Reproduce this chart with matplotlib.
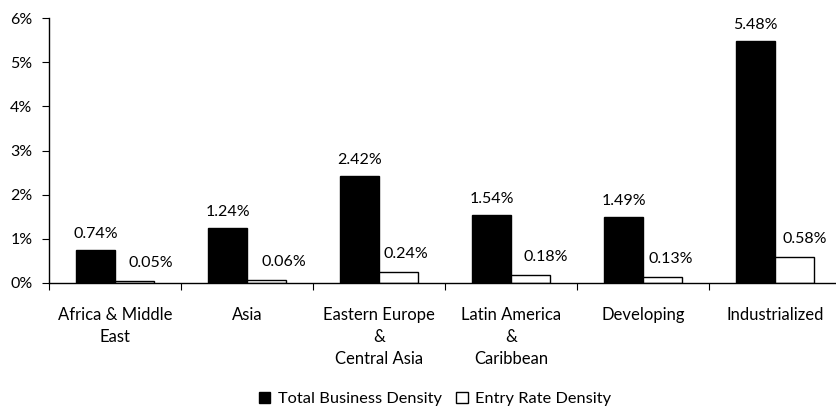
import numpy as np
import matplotlib.pyplot as plt
from matplotlib.ticker import FuncFormatter

plt.rcParams["font.family"] = ["Lato", "DejaVu Sans"]

regions = ["Africa & Middle\nEast", "Asia", "Eastern Europe\n&\nCentral Asia",
           "Latin America\n&\nCaribbean", "Developing", "Industrialized"]
total_density = [0.74, 1.24, 2.42, 1.54, 1.49, 5.48]
entry_density = [0.05, 0.06, 0.24, 0.18, 0.13, 0.58]

# sideways nudge (pixels) of the entry-rate labels so they clear the black bars
entry_label_shift = [16, 17, 7, 15, 8, 10]

W, H = 836, 407
fig = plt.figure(figsize=(W / 100, H / 100), dpi=100)
ax = fig.add_axes([49 / W, (H - 283) / H, 792 / W, 265 / H])

x = np.arange(len(regions))
bw = 0.295
ax.bar(x - bw / 2, total_density, bw, color="black", edgecolor="black",
       linewidth=1, label="Total Business Density")
ax.bar(x + bw / 2, entry_density, bw, color="white", edgecolor="black",
       linewidth=1, label="Entry Rate Density")

px = 72 / 100  # points per pixel
for i in range(len(regions)):
    ax.annotate(f"{total_density[i]:.2f}%", (x[i] - bw / 2, total_density[i]),
                xytext=(0, 16 * px), textcoords="offset points", ha="center",
                va="center", fontsize=11.5)
    ax.annotate(f"{entry_density[i]:.2f}%", (x[i] + bw / 2, entry_density[i]),
                xytext=(entry_label_shift[i] * px, 18 * px),
                textcoords="offset points", ha="center", va="center",
                fontsize=11.5)

ax.set_xlim(-0.5, len(regions) - 0.5)
ax.set_ylim(0, 6)
ax.set_yticks(range(7))
ax.yaxis.set_major_formatter(FuncFormatter(lambda v, p: f"{v:.0f}%"))
ax.tick_params(axis="y", direction="out", length=5, labelsize=11.5, pad=7)

# ticks between categories, labels centred under each group
ax.set_xticks(np.arange(len(regions) + 1) - 0.5)
ax.set_xticklabels([])
ax.tick_params(axis="x", which="major", direction="out", length=5)
ax.set_xticks(x, minor=True)
ax.set_xticklabels(regions, minor=True, fontsize=12, linespacing=1.48, va="top")
ax.tick_params(axis="x", which="minor", length=0, pad=17)

for s in ["top", "right"]:
    ax.spines[s].set_visible(False)
ax.spines["left"].set_linewidth(1)
ax.spines["bottom"].set_linewidth(1)

fig.legend(loc="center", bbox_to_anchor=(435 / W, (H - 399) / H), ncol=2,
           frameon=False, fontsize=11.8, handlelength=0.7, handleheight=0.7,
           handletextpad=0.45, columnspacing=0.9)

fig.savefig("out.png", dpi=100)
